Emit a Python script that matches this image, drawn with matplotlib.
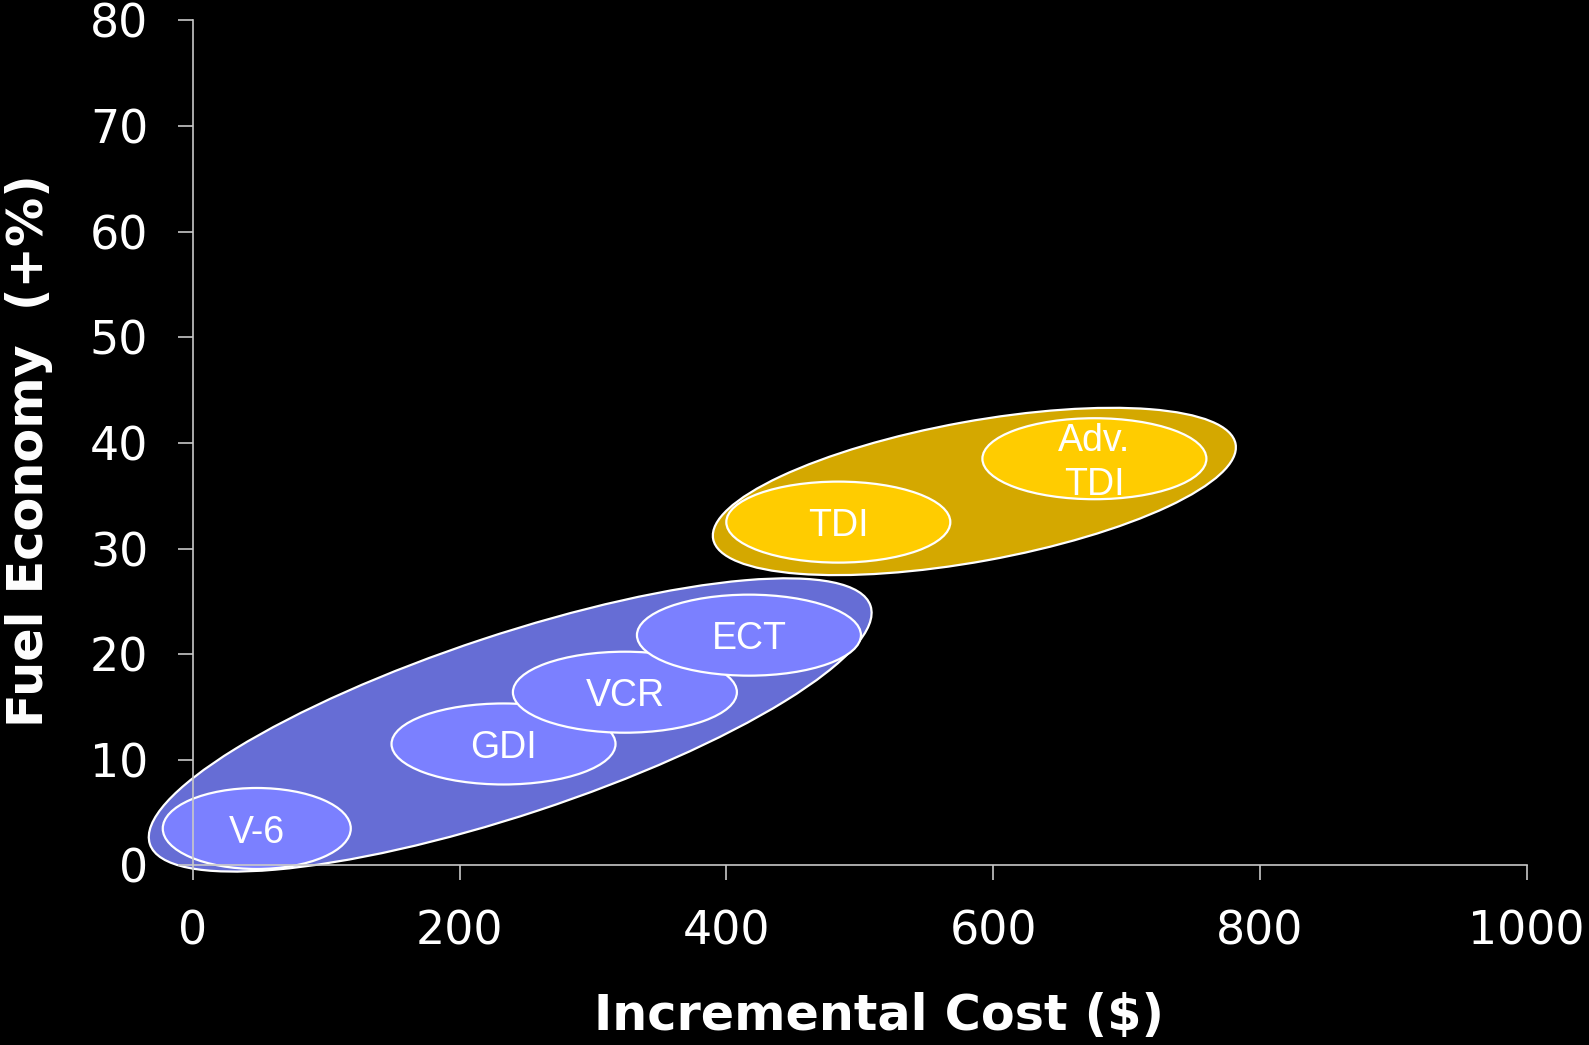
import matplotlib.pyplot as plt
from matplotlib.patches import Ellipse
from matplotlib.transforms import ScaledTranslation

# technologies: incremental cost ($) vs fuel economy gain (%)
gas_names = ["V-6", "GDI", "VCR", "ECT"]
gas_cost = [48, 233, 324, 417]
gas_economy = [3.5, 11.5, 16.4, 21.8]

diesel_names = ["TDI", "Adv.\nTDI"]
diesel_cost = [484, 676]
diesel_economy = [32.5, 38.5]

# centres of the two group envelopes
group_cost = [238, 586]
group_economy = [13.3, 35.4]

x_ticks = [0, 200, 400, 600, 800, 1000]
y_ticks = [0, 10, 20, 30, 40, 50, 60, 70, 80]

plt.rcParams["font.family"] = "DejaVu Sans"

fig = plt.figure(figsize=(15.89, 10.45), dpi=100, facecolor="black")
ax = fig.add_axes([0.1213, 0.1718, 0.8394, 0.8088])
ax.set_facecolor("black")

ax.set_xlim(0, 1000)
ax.set_ylim(0, 80)
ax.set_xticks(x_ticks)
ax.set_yticks(y_ticks)

for side in ["top", "right"]:
    ax.spines[side].set_visible(False)
for side in ["left", "bottom"]:
    ax.spines[side].set_color("#c8c8c8")
    ax.spines[side].set_linewidth(1.2)

ax.tick_params(colors="#c8c8c8", length=11, width=1.2, labelsize=33,
               labelcolor="white", pad=21)

fig.text(0.553, 0.028, "Incremental Cost ($)", color="white", fontsize=35.5,
         fontweight="bold", ha="center", va="center")
fig.text(0.018, 0.569, "Fuel Economy  (+%)", color="white", fontsize=35.5,
         fontweight="bold", ha="center", va="center", rotation=90)


def blob(x, y, w, h, angle, color, lw=1.6):
    # size in inches, centred on a data point
    tr = fig.dpi_scale_trans + ScaledTranslation(x, y, ax.transData)
    e = Ellipse((0, 0), w, h, angle=angle, facecolor=color,
                edgecolor="white", linewidth=lw, transform=tr, clip_on=False)
    ax.add_patch(e)


def label(x, y, s):
    ax.annotate(s, (x, y), xytext=(0, -3), textcoords="offset points",
                color="white", fontsize=27, family="Liberation Sans",
                ha="center", va="center", linespacing=1.3)


# gasoline group
blob(group_cost[0], group_economy[0], 7.59, 1.80, 18.3, "#666dd5")
for i, name in enumerate(gas_names):
    w = 1.88 if name == "V-6" else 2.24
    blob(gas_cost[i], gas_economy[i], w, 0.81, 0, "#7b80ff")
    label(gas_cost[i], gas_economy[i], name)

# diesel group
blob(group_cost[1], group_economy[1], 5.31, 1.40, 10.3, "#d4a800")
for i, name in enumerate(diesel_names):
    blob(diesel_cost[i], diesel_economy[i], 2.24, 0.81, 0, "#ffcc00")
    label(diesel_cost[i], diesel_economy[i], name)

fig.savefig("out.png", dpi=100, facecolor="black")
